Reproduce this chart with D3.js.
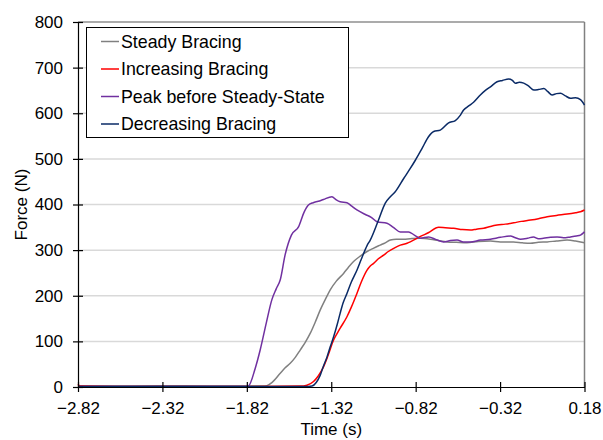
<!DOCTYPE html>
<html><head><meta charset="utf-8">
<script src="https://cdn.jsdelivr.net/npm/d3@7/dist/d3.min.js"></script>
<style>body{margin:0;background:#fff}svg{display:block}text{font-family:"Liberation Sans",Arial,sans-serif;fill:#000}</style>
</head><body><div id="chart"></div>
<script>
const xTicks = [-2.82, -2.32, -1.82, -1.32, -0.82, -0.32, 0.18];
const yTicks = [0, 100, 200, 300, 400, 500, 600, 700, 800];
const seriesNames = ["Steady Bracing", "Increasing Bracing", "Peak before Steady-State", "Decreasing Bracing"];
const seriesColors = ["#808080", "#ff0000", "#7030a0", "#0a2a66"];

const steadyT = [-2.82,-2.5,-2.2,-1.9,-1.723,-1.701,-1.670,-1.622,-1.593,-1.563,-1.533,-1.504,-1.474,-1.444,-1.415,-1.385,-1.355,-1.326,-1.290,-1.247,-1.219,-1.188,-1.148,-1.108,-1.071,-1.030,-1.000,-0.970,-0.935,-0.891,-0.852,-0.792,-0.733,-0.686,-0.634,-0.579,-0.516,-0.449,-0.377,-0.318,-0.241,-0.188,-0.140,-0.093,-0.041,0.014,0.077,0.127,0.18];
const steadyF = [2,2,3,2,2,3,10,30,42,52,65,81,98,118,142,169,192,213,232,249,262,275,287,297,304,311,316,322,324,324,325,326,324,321,318,317,316,319,320,318,318,316,315,317,318,320,322,320,316];

const incT = [-2.82,-2.81,-2.6,-2.2,-1.8,-1.504,-1.464,-1.425,-1.397,-1.366,-1.338,-1.306,-1.284,-1.267,-1.227,-1.201,-1.168,-1.142,-1.108,-1.089,-1.069,-1.041,-1.010,-0.982,-0.950,-0.911,-0.871,-0.852,-0.792,-0.745,-0.684,-0.644,-0.595,-0.543,-0.496,-0.460,-0.417,-0.377,-0.338,-0.289,-0.239,-0.194,-0.140,-0.093,-0.041,0.014,0.077,0.127,0.156,0.18];
const incF = [6,2,1,1,1,2,4,12,24,44,70,103,118,129,154,175,205,230,256,265,271,281,289,297,304,311,315,318,330,338,350,349,348,345,344,346,348,352,355,357,360,363,366,369,373,376,379,382,384,388];

const peakT = [-2.82,-2.4,-2.0,-1.82,-1.810,-1.771,-1.741,-1.705,-1.672,-1.646,-1.622,-1.593,-1.556,-1.514,-1.480,-1.455,-1.427,-1.397,-1.366,-1.316,-1.290,-1.267,-1.227,-1.201,-1.168,-1.118,-1.083,-1.049,-0.990,-0.952,-0.911,-0.862,-0.828,-0.792,-0.743,-0.698,-0.654,-0.614,-0.575,-0.537,-0.496,-0.436,-0.377,-0.318,-0.259,-0.229,-0.199,-0.158,-0.122,-0.093,-0.063,-0.022,0.018,0.055,0.097,0.132,0.156,0.18];
const peakF = [1,1,1,1,2,40,81,140,191,215,235,290,333,351,384,399,404,407,411,417,410,406,404,397,388,378,372,362,359,350,340,340,333,326,329,323,318,321,322,318,318,322,324,328,331,327,324,326,329,325,326,328,329,327,329,331,333,340];

const decT = [-2.82,-2.4,-2.0,-1.6,-1.456,-1.434,-1.409,-1.385,-1.367,-1.345,-1.326,-1.306,-1.284,-1.267,-1.249,-1.227,-1.201,-1.168,-1.142,-1.108,-1.089,-1.040,-1.000,-0.970,-0.941,-0.891,-0.852,-0.822,-0.782,-0.743,-0.713,-0.674,-0.625,-0.585,-0.555,-0.536,-0.506,-0.477,-0.437,-0.407,-0.377,-0.338,-0.306,-0.269,-0.247,-0.229,-0.206,-0.180,-0.152,-0.120,-0.093,-0.061,-0.039,-0.012,0.014,0.038,0.067,0.097,0.127,0.156,0.18];
const decF = [1,1,1,1,1,2,10,26,45,66,88,110,138,162,185,205,230,256,280,310,322,366,403,417,428,457,479,497,523,549,560,563,579,584,596,607,616,624,640,650,658,669,672,675,672,666,668,666,660,651,652,654,648,640,643,644,638,633,634,630,618];

const seriesT = [steadyT, incT, peakT, decT];
const seriesF = [steadyF, incF, peakF, decF];

const W = 603, H = 440;
const m = {left: 78, top: 22, right: 18.5, bottom: 53};
const svg = d3.select("#chart").append("svg").attr("width", W).attr("height", H);
const x = d3.scaleLinear().domain([-2.82, 0.18]).range([m.left, W - m.right]);
const y = d3.scaleLinear().domain([0, 800]).range([H - m.bottom, m.top]);

// gridlines
svg.append("g").selectAll("line").data(yTicks.filter(d => d > 0 && d < 800)).join("line")
  .attr("x1", x(-2.82)).attr("x2", x(0.18)).attr("y1", d => y(d)).attr("y2", d => y(d))
  .attr("stroke", "#d9d9d9").attr("stroke-width", 1.5);

// frame top/right
svg.append("line").attr("x1", x(-2.82)).attr("x2", x(0.18)).attr("y1", y(800)).attr("y2", y(800)).attr("stroke", "#595959").attr("stroke-width", 1.2);
svg.append("line").attr("x1", x(0.18)).attr("x2", x(0.18)).attr("y1", y(800)).attr("y2", y(0)).attr("stroke", "#808080").attr("stroke-width", 1.5);

// series
const line = d3.line().x(d => x(d[0])).y(d => y(d[1])).curve(d3.curveMonotoneX);
[0,1,2,3].forEach(i => {
  const pts = seriesT[i].map((t, j) => [t, seriesF[i][j]]);
  svg.append("path").datum(pts).attr("d", line).attr("fill", "none")
    .attr("stroke", seriesColors[i]).attr("stroke-width", 1.5);
});

// axes
const xAxis = d3.axisBottom(x).tickValues(xTicks).tickFormat(d3.format(".2f")).tickSizeInner(5).tickSizeOuter(0).tickPadding(10);
const gx = svg.append("g").attr("transform", `translate(0,${y(0)})`).call(xAxis);
gx.selectAll(".tick line").attr("y1", -5).attr("y2", 5);
const yAxis = d3.axisLeft(y).tickValues(yTicks).tickSizeInner(5).tickSizeOuter(0).tickPadding(10);
const gy = svg.append("g").attr("transform", `translate(${x(-2.82)},0)`).call(yAxis);
gy.selectAll(".tick line").attr("x1", -5).attr("x2", 5);
[gx, gy].forEach(g => {
  g.select(".domain").attr("stroke", "#000").attr("stroke-width", 1.2);
  g.selectAll(".tick line").attr("stroke", "#000").attr("stroke-width", 1.2);
  g.selectAll("text").attr("font-size", 17).attr("font-family", "Liberation Sans, Arial, sans-serif").attr("fill", "#000");
});

svg.append("text").attr("x", (x(-2.82) + x(0.18)) / 2).attr("y", 435).attr("text-anchor", "middle").attr("font-size", 17).text("Time (s)");
svg.append("text").attr("transform", `translate(27,${(y(0)+y(800))/2}) rotate(-90)`).attr("text-anchor", "middle").attr("font-size", 17).text("Force (N)");

// legend
const lg = svg.append("g");
lg.append("rect").attr("x", 86.5).attr("y", 27.5).attr("width", 262).attr("height", 110).attr("fill", "#fff").attr("stroke", "#000").attr("stroke-width", 1);
seriesNames.forEach((n, i) => {
  const cy = 41.5 + i * 27.5;
  lg.append("line").attr("x1", 101).attr("x2", 119).attr("y1", cy).attr("y2", cy).attr("stroke", seriesColors[i]).attr("stroke-width", 1.5);
  lg.append("text").attr("x", 121).attr("y", cy).attr("dy", "0.35em").attr("font-size", 17.8).text(n);
});
</script></body></html>
